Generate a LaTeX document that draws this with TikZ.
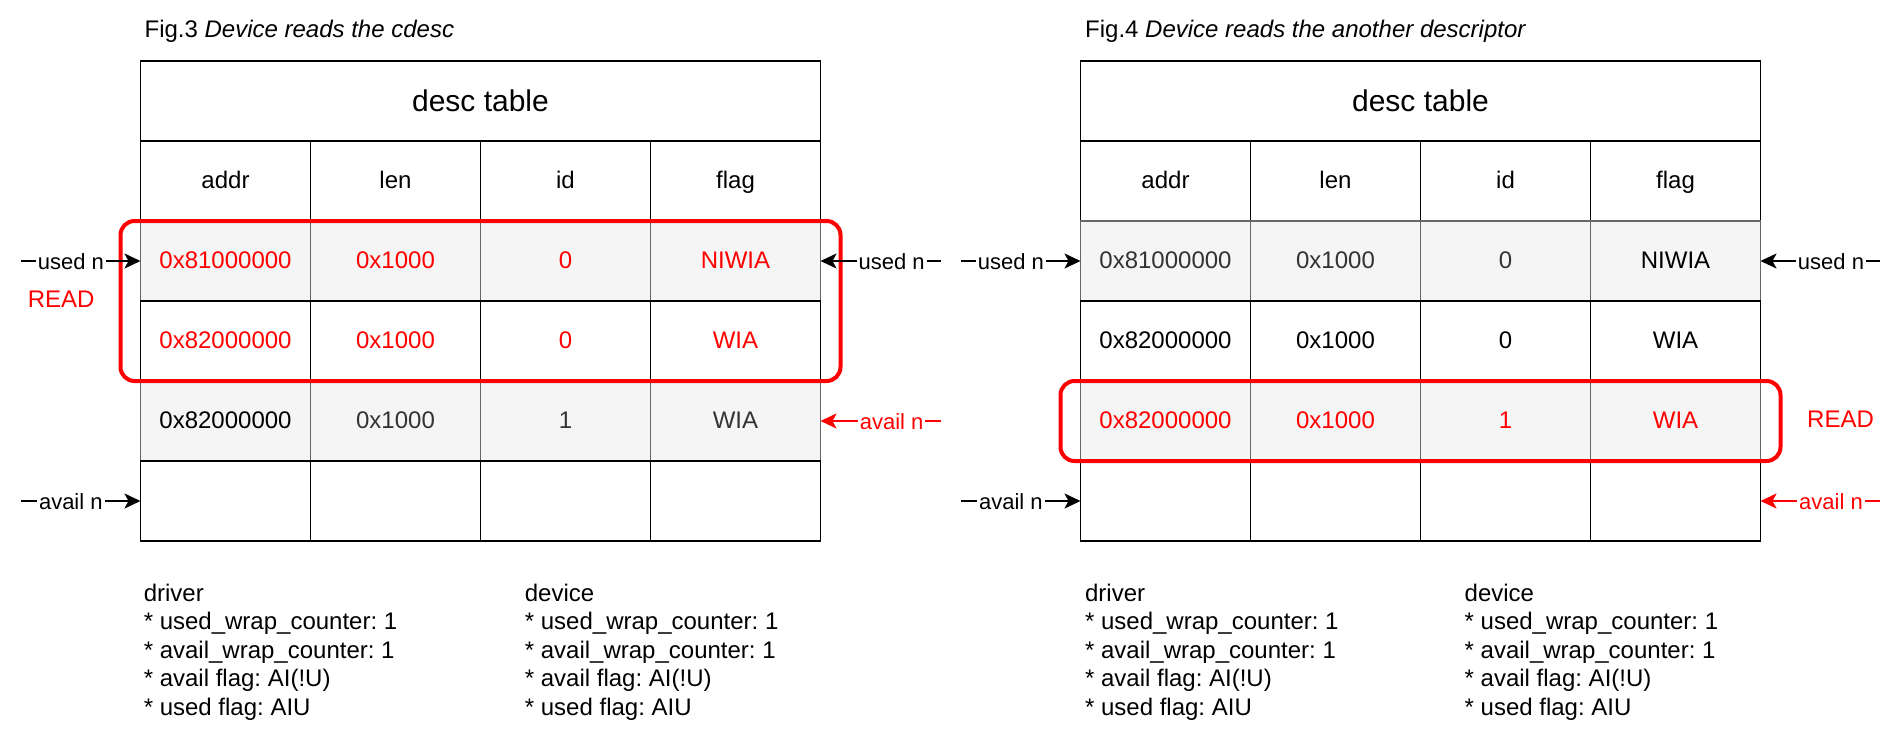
\documentclass[tikz,border=0pt]{standalone}
\usepackage{fontspec}
\setmainfont{Liberation Sans}
\usetikzlibrary{arrows.meta,fit}
\definecolor{cellgray}{HTML}{F5F5F5}
\definecolor{bordergray}{HTML}{666666}
\definecolor{textgray}{HTML}{333333}
\definecolor{hired}{HTML}{FF0000}
\frenchspacing
\begin{document}
\begin{tikzpicture}[x=0.5pt,y=-0.5pt,
  cellbase/.style={inner sep=0pt, outer sep=0pt, anchor=north west, minimum height=40pt,
    font=\fontsize{12}{14}\selectfont, text height=9.8pt, text depth=2.5pt, line width=0.9pt},
  wcell/.style={cellbase, draw=black, fill=white, minimum width=85pt},
  gcell/.style={cellbase, draw=bordergray, fill=cellgray, minimum width=85pt, text=textgray},
  titlecell/.style={cellbase, draw=black, fill=white, minimum width=340pt,
    font=\fontsize{15}{18}\selectfont, text height=13.5pt, text depth=2.8pt},
  redbox/.style={draw=hired, line width=2pt, rounded corners=7pt, inner xsep=10pt, inner ysep=0pt, outer sep=0pt},
  arr/.style={draw, line width=0.9pt, -{Stealth[length=8pt,width=7.5pt,inset=2pt]}},
  lbl/.style={fill=white, inner sep=1pt, font=\fontsize{11}{13}\selectfont, text height=10.3pt, text depth=2pt},
  readlbl/.style={text=hired, inner sep=0pt, font=\fontsize{12}{14}\selectfont},
  figtitle/.style={anchor=base west, inner sep=0pt, font=\fontsize{12}{14}\selectfont},
  note/.style={anchor=base west, inner sep=0pt, font=\fontsize{12}{14}\selectfont}
]
\useasboundingbox (0,0) rectangle (1902,740);

% ---------------- Fig.3 (left) ----------------
\node[figtitle] (L-fig) at (144.2,37.3) {Fig.3 \textit{Device reads the cdesc}};
\node[titlecell] (L-title) at (140.5,61) {desc table};
\foreach \c/\t in {1/addr,2/len,3/id,4/flag}
  \node[wcell] (L-h\c) at ({140.5+(\c-1)*170},141) {\t};
\foreach \c/\t in {1/0x81000000,2/0x1000,3/0,4/NIWIA}
  \node[gcell,text=hired] (L-r1c\c) at ({140.5+(\c-1)*170},221) {\t};
\foreach \c/\t in {1/0x82000000,2/0x1000,3/0,4/WIA}
  \node[wcell,text=hired] (L-r2c\c) at ({140.5+(\c-1)*170},301) {\t};
\foreach \c/\t/\col in {1/0x82000000/black,2/0x1000/textgray,3/1/textgray,4/WIA/textgray}
  \node[gcell,text=\col] (L-r3c\c) at ({140.5+(\c-1)*170},381) {\t};
\foreach \c in {1,...,4}
  \node[wcell] (L-r4c\c) at ({140.5+(\c-1)*170},461) {};
\node[redbox, fit=(L-r1c1)(L-r2c4)] (L-read) {};

\coordinate (L-usedL) at (21,261);
\coordinate (L-usedR) at (941,261);
\coordinate (L-availR) at (941,421);
\coordinate (L-availL) at (21,501);
\draw[arr] (L-usedL) -- (L-r1c1.west) node[lbl,pos=0.417] (L-usedL-t) {used n};
\draw[arr] (L-usedR) -- (L-r1c4.east) node[lbl,pos=0.41] (L-usedR-t) {used n};
\draw[arr,draw=hired,hired] (L-availR) -- (L-r3c4.east) node[lbl,pos=0.41,text=hired] (L-availR-t) {avail n};
\draw[arr] (L-availL) -- (L-r4c1.west) node[lbl,pos=0.417] (L-availL-t) {avail n};
\node[readlbl] (L-READ) at (61.2,299) {READ};

\foreach \i/\t in {0/driver,1/* used\_wrap\_counter: 1,2/* avail\_wrap\_counter: 1,3/* avail flag: AI(!U),4/* used flag: AIU}
  \node[note] (L-drv\i) at (143.4,{601+\i*28.5}) {\t};
\foreach \i/\t in {0/device,1/* used\_wrap\_counter: 1,2/* avail\_wrap\_counter: 1,3/* avail flag: AI(!U),4/* used flag: AIU}
  \node[note] (L-dev\i) at (524.5,{601+\i*28.5}) {\t};

% ---------------- Fig.4 (right) ----------------
\node[figtitle] (R-fig) at (1084.8,37.3) {Fig.4 \textit{Device reads the another descriptor}};
\node[titlecell] (R-title) at (1080.5,61) {desc table};
\foreach \c/\t in {1/addr,2/len,3/id,4/flag}
  \node[wcell] (R-h\c) at ({1080.5+(\c-1)*170},141) {\t};
\foreach \c/\t/\col in {1/0x81000000/textgray,2/0x1000/textgray,3/0/textgray,4/NIWIA/black}
  \node[gcell,text=\col] (R-r1c\c) at ({1080.5+(\c-1)*170},221) {\t};
\foreach \c/\t in {1/0x82000000,2/0x1000,3/0,4/WIA}
  \node[wcell] (R-r2c\c) at ({1080.5+(\c-1)*170},301) {\t};
\foreach \c/\t in {1/0x82000000,2/0x1000,3/1,4/WIA}
  \node[gcell,text=hired] (R-r3c\c) at ({1080.5+(\c-1)*170},381) {\t};
\foreach \c in {1,...,4}
  \node[wcell] (R-r4c\c) at ({1080.5+(\c-1)*170},461) {};
\node[redbox, fit=(R-r3c1)(R-r3c4)] (R-read) {};

\coordinate (R-usedL) at (961,261);
\coordinate (R-usedR) at (1880,261);
\coordinate (R-availL) at (961,501);
\coordinate (R-availR) at (1880,501);
\draw[arr] (R-usedL) -- (R-r1c1.west) node[lbl,pos=0.417] (R-usedL-t) {used n};
\draw[arr] (R-usedR) -- (R-r1c4.east) node[lbl,pos=0.41] (R-usedR-t) {used n};
\draw[arr] (R-availL) -- (R-r4c1.west) node[lbl,pos=0.417] (R-availL-t) {avail n};
\draw[arr,draw=hired,hired] (R-availR) -- (R-r4c4.east) node[lbl,pos=0.41,text=hired] (R-availR-t) {avail n};
\node[readlbl] (R-READ) at (1840.5,419) {READ};

\foreach \i/\t in {0/driver,1/* used\_wrap\_counter: 1,2/* avail\_wrap\_counter: 1,3/* avail flag: AI(!U),4/* used flag: AIU}
  \node[note] (R-drv\i) at (1084.7,{601+\i*28.5}) {\t};
\foreach \i/\t in {0/device,1/* used\_wrap\_counter: 1,2/* avail\_wrap\_counter: 1,3/* avail flag: AI(!U),4/* used flag: AIU}
  \node[note] (R-dev\i) at (1464.3,{601+\i*28.5}) {\t};
\end{tikzpicture}
\end{document}
